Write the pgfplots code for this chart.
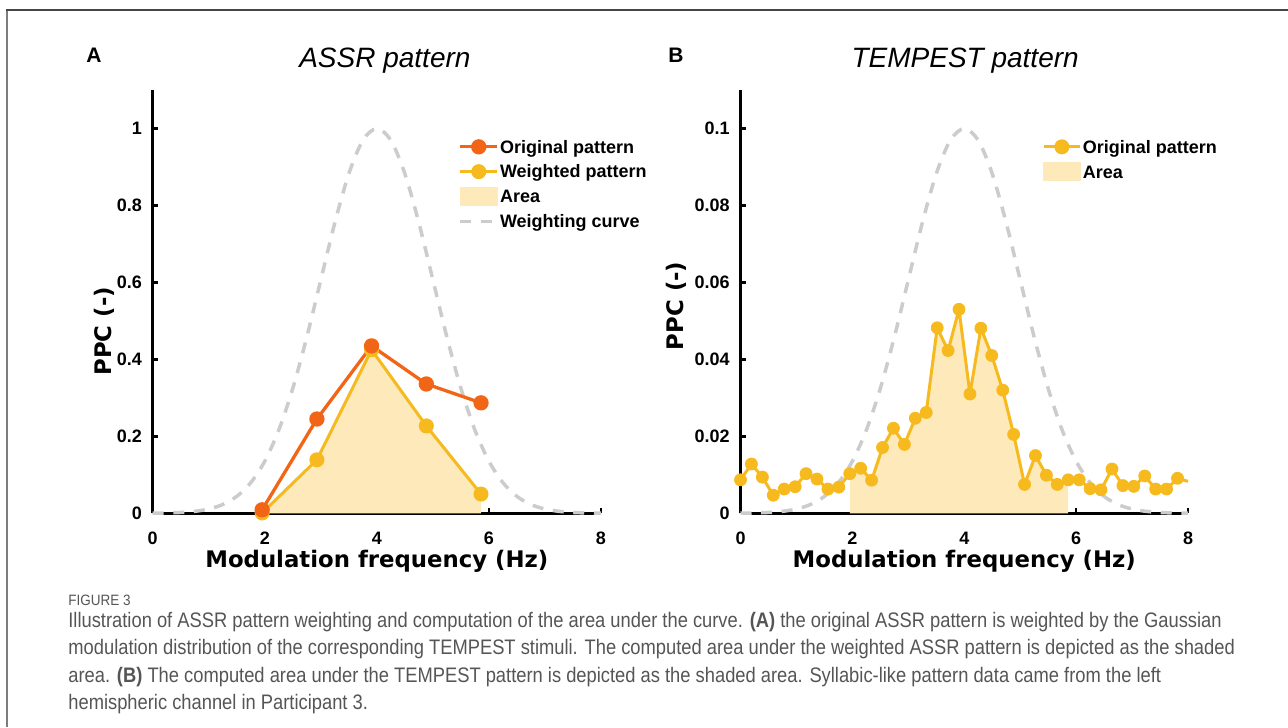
\documentclass[border=0pt]{standalone}
\usepackage{pgfplots}
\pgfplotsset{compat=1.18}
\usepackage{pgfplotstable}
\usepackage{graphicx}
\usepackage{fontspec}
\setmainfont{Liberation Sans}
\newfontfamily\labfont{DejaVu Sans}

\definecolor{origcol}{RGB}{242,101,22}
\definecolor{wcol}{RGB}{247,186,30}
\definecolor{areacol}{RGB}{253,233,185}
\definecolor{gausscol}{RGB}{204,204,204}
\definecolor{capgray}{RGB}{85,85,85}

% ASSR pattern (panel A)
\pgfplotstableread{
f      orig   weighted
1.953  0.009  0.001
2.930  0.245  0.139
3.906  0.435  0.425
4.883  0.336  0.227
5.859  0.287  0.050
}\assrdata

% TEMPEST pattern (panel B)
\pgfplotstableread{
f      ppc
0.000  0.0087
0.195  0.0128
0.391  0.0094
0.586  0.0047
0.781  0.0063
0.977  0.0069
1.172  0.0103
1.367  0.0089
1.563  0.0063
1.758  0.0068
1.953  0.0103
2.148  0.0117
2.344  0.0086
2.539  0.0171
2.734  0.0221
2.930  0.0179
3.125  0.0247
3.320  0.0262
3.516  0.0482
3.711  0.0423
3.906  0.0530
4.102  0.0310
4.297  0.0481
4.492  0.0410
4.688  0.0320
4.883  0.0205
5.078  0.0075
5.273  0.0150
5.469  0.0099
5.664  0.0075
5.859  0.0087
6.055  0.0087
6.250  0.0064
6.445  0.0061
6.641  0.0115
6.836  0.0072
7.031  0.0070
7.227  0.0097
7.422  0.0063
7.617  0.0063
7.813  0.0091
8.000  0.0083
}\tempestdata

% Gaussian weighting curve (peak 1 at 4 Hz; second column scaled for panel B)
\pgfplotstableread{
f     w       wb
0.00  0.0003  0.00003
0.25  0.0009  0.00009
0.50  0.0022  0.00022
0.75  0.0051  0.00051
1.00  0.0111  0.00111
1.25  0.0228  0.00228
1.50  0.0439  0.00439
1.75  0.0796  0.00796
2.00  0.1353  0.01353
2.25  0.2163  0.02163
2.50  0.3247  0.03247
2.75  0.4578  0.04578
3.00  0.6065  0.06065
3.25  0.7548  0.07548
3.50  0.8825  0.08825
3.75  0.9692  0.09692
4.00  1.0000  0.10000
4.25  0.9692  0.09692
4.50  0.8825  0.08825
4.75  0.7548  0.07548
5.00  0.6065  0.06065
5.25  0.4578  0.04578
5.50  0.3247  0.03247
5.75  0.2163  0.02163
6.00  0.1353  0.01353
6.25  0.0796  0.00796
6.50  0.0439  0.00439
6.75  0.0228  0.00228
7.00  0.0111  0.00111
7.25  0.0051  0.00051
7.50  0.0022  0.00022
7.75  0.0009  0.00009
8.00  0.0003  0.00003
}\gaussdata

\newcommand{\ls}{\rule[-1.75pt]{0pt}{9.5pt}}
\newcommand{\capsx}{0.873}
\newcommand{\labelfont}{\labfont\bfseries\fontsize{11.4}{13}\selectfont}

\pgfplotsset{
  panel/.style={
    scale only axis,
    height=211.65pt,
    anchor=south west,
    xmin=0, xmax=8,
    xtick={0,2,4,6,8},
    axis x line*=bottom,
    axis y line*=left,
    axis line style={-, line width=1.5pt, black},
    tick align=inside,
    major tick length=2.5pt,
    tick style={line width=1.2pt, black},
    tick label style={font=\bfseries\fontsize{9}{10}\selectfont},
    /pgf/number format/assume math mode=true,
    xticklabel shift=6pt,
    yticklabel shift=1.9pt,
    scaled y ticks=false,
    clip=false,
    xlabel={Modulation frequency (Hz)},
    ylabel={PPC (-)},
    every axis x label/.style={at={(axis description cs:0.5,-0.1292)}, anchor=base, font=\labelfont},
    title style={font=\itshape\fontsize{14}{16}\selectfont, anchor=base},
    legend cell align=left,
    legend style={draw=none, fill=none, inner sep=0pt, anchor=north west,
      row sep=3.15pt, column sep=0.6pt,
      font=\bfseries\fontsize{9}{10}\selectfont,
      nodes={inner sep=0pt}},
    legend image code/.code={\draw[mark repeat=2,mark phase=2,##1]
      plot coordinates {(0pt,0pt) (9.15pt,0pt) (18.3pt,0pt)};},
  },
  ptline/.style={line width=#1, mark=*, mark size=3pt, line join=round},
  gaussline/.style={gausscol, line width=1.75pt, dash pattern=on 5.5pt off 4.8pt, mark=none},
}

\begin{document}
\begin{tikzpicture}
\path[use as bounding box] (0,0) rectangle (644pt,363.5pt);
\draw[line width=1pt, color={rgb,255:red,125;green,125;blue,125}] (3.5pt,0pt) -- (3.5pt,358.5pt);
\draw[line width=1pt, color={rgb,255:red,70;green,70;blue,70}] (3.0pt,358.5pt) -- (644pt,358.5pt);

\node[font=\bfseries\fontsize{10.5}{12}\selectfont, anchor=base] at (47pt,332pt) {A};
\node[font=\bfseries\fontsize{10.5}{12}\selectfont, anchor=base] at (338pt,332pt) {B};

% Panel A
\begin{axis}[panel,
  at={(76.35pt,106.85pt)}, width=224.15pt,
  ymin=0, ymax=1.1,
  ytick={0,0.2,0.4,0.6,0.8,1},
  yticklabels={0,0.2,0.4,0.6,0.8,1},
  every axis y label/.style={at={(axis description cs:-0.0908,0.43)}, rotate=90, anchor=base, font=\labelfont},
  title={ASSR pattern},
  title style={at={(axis description cs:0.518,1.0236)}},
  legend style={at={(axis description cs:0.6817,0.8885)}},
]
\addlegendimage{ptline=1.65pt, origcol, mark options={fill=origcol, draw=origcol}}
\addlegendentry{\ls Original pattern}
\addlegendimage{ptline=1.5pt, wcol, mark options={fill=wcol, draw=wcol}}
\addlegendentry{\ls Weighted pattern}
\addlegendimage{legend image code/.code={\fill[areacol] (0pt,-4.5pt) rectangle (18.3pt,4.5pt);}}
\addlegendentry{\ls Area}
\addlegendimage{gaussline}
\addlegendentry{\ls Weighting curve}

\addplot[fill=areacol, draw=none, forget plot] table[x=f, y=weighted] {\assrdata} \closedcycle;
\addplot[gaussline, smooth, forget plot] table[x=f, y=w] {\gaussdata};
\addplot[ptline=1.5pt, wcol, mark options={fill=wcol, draw=wcol}, forget plot] table[x=f, y=weighted] {\assrdata};
\addplot[ptline=1.65pt, origcol, mark options={fill=origcol, draw=origcol}, forget plot] table[x=f, y=orig] {\assrdata};
\end{axis}

% Panel B
\begin{axis}[panel,
  at={(370.25pt,106.85pt)}, width=223.75pt,
  ymin=0, ymax=0.11,
  ytick={0,0.02,0.04,0.06,0.08,0.1},
  yticklabels={0,0.02,0.04,0.06,0.08,0.1},
  every axis y label/.style={at={(axis description cs:-0.128,0.49)}, rotate=90, anchor=base, font=\labelfont},
  title={TEMPEST pattern},
  title style={at={(axis description cs:0.502,1.0236)}},
  legend style={at={(axis description cs:0.673,0.8885)}},
]
\addlegendimage{ptline=1.5pt, wcol, mark options={fill=wcol, draw=wcol}}
\addlegendentry{\ls Original pattern}
\addlegendimage{legend image code/.code={\fill[areacol] (0pt,-4.5pt) rectangle (18.3pt,4.5pt);}}
\addlegendentry{\ls Area}

\addplot[fill=areacol, draw=none, forget plot, restrict x to domain=1.9:5.9] table[x=f, y=ppc] {\tempestdata} \closedcycle;
\addplot[gaussline, smooth, forget plot] table[x=f, y=wb] {\gaussdata};
\addplot[wcol, line width=1.5pt, line join=round, mark=none, forget plot] table[x=f, y=ppc] {\tempestdata};
\addplot[wcol, only marks, mark=*, mark size=3pt, mark options={fill=wcol, draw=wcol}, forget plot, restrict x to domain=0:7.9] table[x=f, y=ppc] {\tempestdata};
\end{axis}

% Caption
\node[anchor=base west, font=\fontsize{7.5}{9}\selectfont, text=capgray, inner sep=0pt] at (34pt,60.5pt) {\scalebox{0.9}[1]{FIGURE 3}};
\begin{scope}[every node/.style={anchor=base west, font=\fontsize{10.5}{12}\selectfont, text=capgray, inner sep=0pt}]
\node at (34pt,49.5pt) {\scalebox{\capsx}[1]{Illustration of ASSR pattern weighting and computation of the area under the curve. \textbf{(A)} the original ASSR pattern is weighted by the Gaussian}};
\node at (34pt,36pt) {\scalebox{\capsx}[1]{modulation distribution of the corresponding TEMPEST stimuli. The computed area under the weighted ASSR pattern is depicted as the shaded}};
\node at (34pt,22.5pt) {\scalebox{\capsx}[1]{area. \textbf{(B)} The computed area under the TEMPEST pattern is depicted as the shaded area. Syllabic-like pattern data came from the left}};
\node at (34pt,9pt) {\scalebox{\capsx}[1]{hemispheric channel in Participant 3.}};
\end{scope}
\end{tikzpicture}
\end{document}
